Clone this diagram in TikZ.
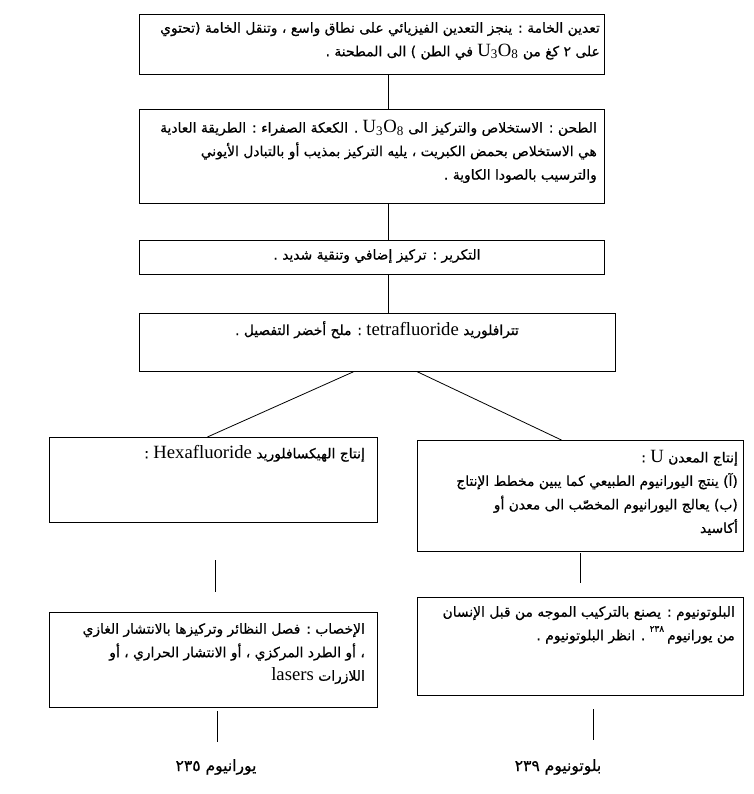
\documentclass[tikz,border=0pt]{standalone}
\usepackage{fontspec}
\setmainfont{Liberation Serif}
\newfontfamily\arabicfont[Script=Arabic,Scale=0.74,FakeBold=0.6]{DejaVu Sans}
\TeXXeTstate=1
\newcommand{\ar}[1]{{\arabicfont #1}}
\newcommand{\uoe}{\beginL U\textsubscript{3}O\textsubscript{8}\endL}
\begin{document}
\begin{tikzpicture}[x=1pt,y=-1pt,
  box/.style={draw, line width=0.8pt, inner sep=0pt, anchor=north west},
  txt/.style={inner sep=0pt, align=right, font=\fontsize{18.7}{23.5}\selectfont},
  lbl/.style={inner sep=0pt, font=\fontsize{21}{24}\selectfont},
  conn/.style={line width=0.8pt}]
\path[use as bounding box, fill=white] (0,0) rectangle (753,794);
% boxes
\node[box, minimum width=465pt, minimum height=60pt] (b1) at (139,14) {};
\node[box, minimum width=465pt, minimum height=94pt] (b2) at (139,109) {};
\node[box, minimum width=465pt, minimum height=34pt] (b3) at (139,240) {};
\node[box, minimum width=476pt, minimum height=58pt] (b4) at (139,313) {};
\node[box, minimum width=328pt, minimum height=85pt] (b5) at (49,437) {};
\node[box, minimum width=326pt, minimum height=111pt] (b6) at (417,440) {};
\node[box, minimum width=328pt, minimum height=95pt] (b7) at (49,612) {};
\node[box, minimum width=326pt, minimum height=98pt] (b8) at (417,597) {};
% texts
\node[txt, anchor=north east] (t1) at (600,22) {%
\beginR\ar{تعدين الخامة : ينجز التعدين الفيزيائي على نطاق واسع ، وتنقل الخامة (تحتوي}\endR\\
\beginR\ar{على ٢ كغ من }\uoe\ar{ في الطن ) الى المطحنة .}\endR};
\node[txt, anchor=north east] (t2) at (597,120) {%
\beginR\ar{الطحن : الاستخلاص والتركيز الى }\uoe\ar{ . الكعكة الصفراء : الطريقة العادية}\endR\\
\beginR\ar{هي الاستخلاص بحمض الكبريت ، يليه التركيز بمذيب أو بالتبادل الأيوني}\endR\\
\beginR\ar{والترسيب بالصودا الكاوية .}\endR};
\node[txt, align=center] (t3) at (377,256) {%
\beginR\ar{التكرير : تركيز إضافي وتنقية شديد .}\endR};
\node[txt, anchor=north, align=center] (t4) at (377,321) {%
\beginR\ar{تترافلوريد }\beginL tetrafluoride\endL\ar{ : ملح أخضر التفصيل .}\endR};
\node[txt, anchor=north east] (t5) at (365,445) {%
\beginR\ar{إنتاج الهيكسافلوريد }\beginL Hexafluoride\endL\ar{ :}\endR};
\node[txt, anchor=north east] (t6) at (738,450) {%
\beginR\ar{إنتاج المعدن }\beginL U\endL\ar{ :}\endR\\
\beginR\ar{(آ) ينتج اليورانيوم الطبيعي كما يبين مخطط الإنتاج}\endR\\
\beginR\ar{(ب) يعالج اليورانيوم المخصّب الى معدن أو}\endR\\
\beginR\ar{أكاسيد}\endR};
\node[txt, anchor=north east] (t7) at (365,623) {%
\beginR\ar{الإخصاب : فصل النظائر وتركيزها بالانتشار الغازي}\endR\\
\beginR\ar{، أو الطرد المركزي ، أو الانتشار الحراري ، أو}\endR\\
\beginR\ar{اللازرات }\beginL lasers\endL\endR};
\node[txt, anchor=north east] (t8) at (735,606) {%
\beginR\ar{البلوتونيوم : يصنع بالتركيب الموجه من قبل الإنسان}\endR\\
\beginR\ar{من يورانيوم}\,\raisebox{0.45em}{\fontsize{12}{12}\selectfont\arabicfont ٢٣٨}\ar{ . انظر البلوتونيوم .}\endR};
% bottom labels
\node[lbl] (u235) at (216,767) {\beginR\ar{يورانيوم ٢٣٥}\endR};
\node[lbl] (p239) at (558,767) {\beginR\ar{بلوتونيوم ٢٣٩}\endR};
% connector coordinates
\coordinate (m1a) at (215,560); \coordinate (m1b) at (215,592);
\coordinate (m2a) at (580,553); \coordinate (m2b) at (580,583);
\coordinate (e1a) at (217,711); \coordinate (e1b) at (217,742);
\coordinate (e2a) at (593,709); \coordinate (e2b) at (593,740);
% connectors
\draw[conn] ([xshift=16.5pt]b1.south) -- ([xshift=16.5pt]b2.north);
\draw[conn] ([xshift=16.5pt]b2.south) -- ([xshift=16.5pt]b3.north);
\draw[conn] ([xshift=16.5pt]b3.south) -- ([xshift=11pt]b4.north);
\draw[conn] ([xshift=-24pt]b4.south) -- ([xshift=-6pt]b5.north);
\draw[conn] ([xshift=40pt]b4.south) -- ([xshift=-19pt]b6.north);
\draw[conn] (m1a) -- (m1b);
\draw[conn] (m2a) -- (m2b);
\draw[conn] (e1a) -- (e1b);
\draw[conn] (e2a) -- (e2b);
\end{tikzpicture}
\end{document}
